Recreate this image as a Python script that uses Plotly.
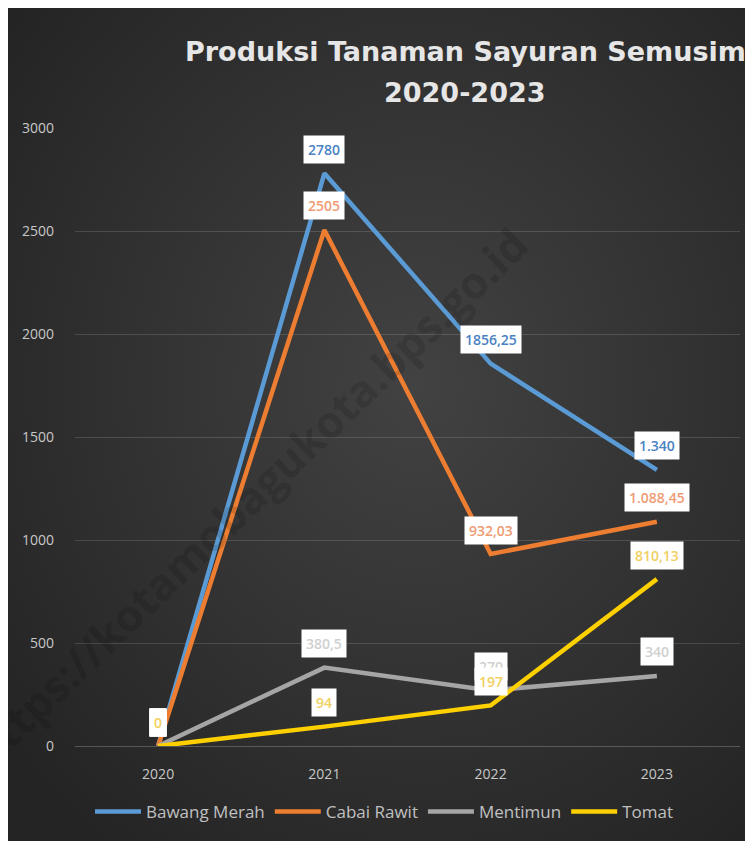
import base64
import plotly.graph_objects as go

years = ["2020", "2021", "2022", "2023"]
series_names = ["Bawang Merah", "Cabai Rawit", "Mentimun", "Tomat"]
bawang_merah = [0, 2780, 1856.25, 1340]
cabai_rawit = [0, 2505, 932.03, 1088.45]
mentimun = [0, 380.5, 270, 340]
tomat = [0, 94, 197, 810.13]
label_bawang = ["0", "2780", "1856,25", "1.340"]
label_cabai = ["0", "2505", "932,03", "1.088,45"]
label_mentimun = ["0", "380,5", "270", "340"]
label_tomat = ["0", "94", "197", "810,13"]
y_ticks = [0, 500, 1000, 1500, 2000, 2500, 3000]
title_lines = ["Produksi Tanaman Sayuran Semusim", "2020-2023"]

values = [bawang_merah, cabai_rawit, mentimun, tomat]
labels = [label_bawang, label_cabai, label_mentimun, label_tomat]
line_colors = ["#5b9bd5", "#ed7d31", "#a5a5a5", "#ffd000"]
label_colors = ["#4a82c4", "#f09b74", "#d0d0d0", "#f0d060"]

# page body has an 8px margin, so the figure is sized/placed accordingly
W, H = 745, 833
L, R, T, B = 67, 13, 120, 95
pw, ph = W - L - R, H - T - B


def px_to_paper(xp, yp):
    return (xp - L) / pw, (H - B - yp) / ph


fig = go.Figure()
for name, vals, col in zip(series_names, values, line_colors):
    fig.add_trace(go.Scatter(
        x=years, y=vals, name=name, mode="lines",
        line=dict(color=col, width=4.5),
    ))

annotations = []
# watermark
wx, wy = px_to_paper(240, 490)
annotations.append(dict(
    x=wx, y=wy, xref="paper", yref="paper", xanchor="center", yanchor="middle",
    text="https://kotamobagukota.bps.go.id", showarrow=False,
    textangle=-44, font=dict(family="Open Sans", size=44, color="rgba(0,0,0,0.15)", weight=700),
))
for vals, labs, lc in zip(values, labels, label_colors):
    for i, (v, t) in enumerate(zip(vals, labs)):
        annotations.append(dict(
            x=i, y=v, xref="x", yref="y", text=t, showarrow=False,
            yshift=24, bgcolor="#ffffff", borderpad=4,
            font=dict(family="Open Sans", size=14, color=lc, weight=600),
        ))

for line, ypix in zip(title_lines, [44, 85]):
    tx, ty = px_to_paper(457, ypix)
    annotations.append(dict(
        x=tx, y=ty, xref="paper", yref="paper",
        text=line, showarrow=False, xanchor="center", yanchor="middle",
        font=dict(family="DejaVu Sans", size=27, color="#e6e6e6", weight=700),
    ))

svg = """<svg xmlns='http://www.w3.org/2000/svg' width='745' height='833'>
<defs><radialGradient id='g' cx='55%' cy='45%' r='70%'>
<stop offset='0%' stop-color='#424242'/><stop offset='100%' stop-color='#242424'/>
</radialGradient></defs><rect width='745' height='833' fill='url(#g)'/></svg>"""
src = "data:image/svg+xml;base64," + base64.b64encode(svg.encode()).decode()

ix, iy = px_to_paper(0, 0)
fig.update_layout(
    width=W, height=H,
    margin=dict(l=L, r=R, t=T, b=B, autoexpand=False),
    paper_bgcolor="#262626",
    plot_bgcolor="rgba(0,0,0,0)",
    images=[dict(
        source=src, xref="paper", yref="paper",
        x=ix, y=iy, sizex=W / pw, sizey=H / ph,
        xanchor="left", yanchor="top", sizing="stretch", layer="below",
    )],
    xaxis=dict(
        type="category", range=[-0.5, 3.5], showgrid=False, zeroline=False,
        showline=False, ticks="",
        tickfont=dict(family="Open Sans", size=14, color="#c8c8c8"),
        ticklabelstandoff=18,
    ),
    yaxis=dict(
        range=[0, 3000], tickvals=y_ticks, showgrid=True,
        gridcolor="rgba(255,255,255,0.14)", gridwidth=1, zeroline=True,
        zerolinecolor="rgba(255,255,255,0.22)", zerolinewidth=1,
        tickfont=dict(family="Open Sans", size=14, color="#c8c8c8"),
        ticklabelstandoff=20,
    ),
    legend=dict(
        orientation="h", x=px_to_paper(376, 0)[0], xanchor="center",
        y=px_to_paper(0, 804)[1], yanchor="middle",
        font=dict(family="Open Sans", size=17, color="#c0c0c0"),
        bgcolor="rgba(0,0,0,0)", itemwidth=46,
    ),
    annotations=annotations,
    showlegend=True,
)

fig.write_html("out.html")
